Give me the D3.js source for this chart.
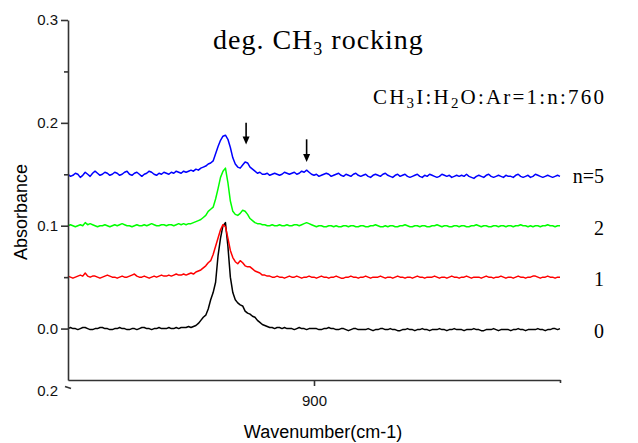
<!DOCTYPE html>
<html>
<head>
<meta charset="utf-8">
<script src="https://cdn.jsdelivr.net/npm/d3@7"></script>
<style>
  body { margin: 0; background: #fff; }
  .axis path, .axis line { stroke: #333; stroke-width: 1.6; }
  .axis text { font-family: "Liberation Sans", Arial, sans-serif; font-size: 15px; fill: #111; }
  .serif { font-family: "Liberation Serif", "Times New Roman", serif; fill: #000; }
  .sans { font-family: "Liberation Sans", Arial, sans-serif; fill: #000; }
</style>
</head>
<body>
<script>
// wavenumber grid: 850 .. 950 cm-1, step 0.5 (values below in mAbs)
var wnStart = 850, wnStep = 0.5;

var n0 = [
  0,1,0,0,-1,0,1,1,0,-1,-1,0,0,1,1,0,0,-1,-1,0,
  0,1,0,0,-1,-1,0,0,-1,0,1,1,0,0,-1,0,0,1,0,0,
  0,1,0,0,1,0,1,1,1,2,1,2,3,5,8,11,13,19,28,35,
  45,71,88,100,103,80,50,35,28,25,23,22,17,15,14,12,11,8,6,4,
  3,2,1,1,0,1,1,0,1,0,0,0,-1,0,1,0,0,-1,0,0,
  0,0,-1,-1,0,0,1,0,0,-1,-1,0,0,-1,-2,-1,0,0,-1,-1,
  -1,-1,0,-1,-2,-1,-1,0,0,-1,-1,0,-1,-1,-2,-2,-1,-1,0,-1,
  -1,-2,-1,-1,0,-1,-1,-2,-1,-1,-1,0,-1,-1,-2,-1,-1,0,-1,-1,
  -1,-2,-1,-1,-1,0,-1,-1,-2,-2,-1,-1,-1,0,-1,-2,-1,-1,-1,-1,
  -2,-1,-1,0,-1,-1,-2,-1,-1,-1,-1,0,-1,-1,-2,-1,-1,0,0,-1,
  0
];
var n1 = [
  51,50,49,50,51,52,51,54,51,50,51,51,50,49,50,51,52,51,50,50,
  49,50,51,50,50,51,52,53,51,50,50,51,50,49,50,51,50,51,52,51,
  51,52,51,52,53,52,52,53,52,53,54,53,55,56,57,59,61,64,66,72,
  80,88,96,101,99,88,76,69,65,63,66,64,61,60,60,58,56,55,54,52,
  52,51,51,50,50,51,50,50,49,50,51,50,50,51,50,49,50,50,51,50,
  50,49,50,51,50,50,49,50,50,51,50,49,49,50,50,51,50,50,49,50,
  50,51,50,49,50,50,50,51,50,49,50,50,49,50,51,50,50,49,50,50,
  49,50,51,50,50,49,50,50,50,51,50,49,50,50,49,50,51,50,50,49,
  50,50,51,50,49,50,50,50,49,50,51,50,50,49,50,50,51,50,49,50,
  50,49,50,51,50,50,49,50,50,51,51,50,49,50,50,51,50,50,49,50,
  50
];
var n2 = [
  100,101,100,99,100,101,100,103,101,102,101,100,99,100,100,101,100,99,100,101,
  100,101,102,101,100,100,99,100,101,100,100,101,100,101,102,101,100,100,101,101,
  100,101,101,100,101,102,101,102,101,102,102,103,104,105,106,108,110,114,116,118,
  126,136,147,153,156,142,124,114,111,110,112,115,114,111,107,105,103,102,102,101,
  101,100,100,101,100,100,101,100,100,101,100,100,101,101,100,101,102,103,102,101,
  100,99,100,100,99,99,100,100,99,100,99,99,100,100,99,100,100,99,99,100,
  100,99,99,100,100,101,100,99,99,100,99,100,100,99,99,100,100,101,100,99,
  99,100,100,99,100,100,99,99,100,100,101,100,99,100,100,99,99,100,100,99,
  100,100,99,99,100,100,101,100,99,100,100,99,99,100,100,99,100,100,99,100,
  100,99,100,100,101,100,100,99,100,99,100,100,99,100,100,101,100,100,99,100,
  100
];
var n5 = [
  150,148,149,151,150,147,149,152,150,148,151,153,151,149,150,152,151,149,150,152,
  151,149,150,152,153,150,149,151,152,150,148,150,151,153,152,150,149,151,150,152,
  151,150,152,151,153,152,151,153,152,153,154,153,155,154,156,157,158,160,161,163,
  170,177,183,187,188,184,176,166,160,157,156,159,162,161,157,155,153,151,152,150,
  150,151,149,150,151,150,149,150,152,151,150,151,152,150,151,153,152,154,152,150,
  149,150,148,149,150,151,150,148,149,150,151,149,148,150,149,148,150,151,149,148,
  149,150,148,147,149,150,149,148,150,151,149,148,147,149,150,148,149,150,148,147,
  148,149,150,148,147,149,148,150,149,148,147,148,150,149,148,149,147,148,149,148,
  149,148,150,148,147,146,148,149,148,147,149,150,148,147,148,149,148,147,149,148,
  148,147,149,150,148,147,148,149,147,148,150,149,148,147,148,149,148,147,148,149,
  148
];

var seriesNames = ["0", "1", "2", "n=5"];
var seriesValues = [n0, n1, n2, n5];
var seriesOffsets = [0.00, 0.05, 0.10, 0.15];
var seriesColors = ["#000000", "#ff0000", "#00ff00", "#0000ff"];

var yTicks = [-0.05, 0.0, 0.1, 0.2, 0.3];
var yTickLabels = ["0.2", "0.0", "0.1", "0.2", "0.3"];
var yMinorTicks = [0.05, 0.15, 0.25];
var xTicks = [900, 950];
var xTickLabels = ["900", ""];

// arrows marking the new bands (wavenumber, top, tip)
var arrowWn = [886.2, 898.5];
var arrowTop = [0.200, 0.184];
var arrowTip = [0.179, 0.162];

var margin = {top: 20, right: 78, bottom: 63, left: 68},
    W = 638, H = 443;

var svg = d3.select("body").append("svg")
    .attr("width", W)
    .attr("height", H);

var x = d3.scaleLinear()
    .domain([850, 950])
    .range([margin.left, W - margin.right]);
var y = d3.scaleLinear()
    .domain([-0.05, 0.3])
    .range([H - margin.bottom, margin.top]);

var line = d3.line()
    .x((d, i) => x(wnStart + i * wnStep))
    .y(d => y(d / 1000));

svg.selectAll(".spectrum")
    .data(seriesValues)
    .enter()
    .append("path")
    .attr("class", "spectrum")
    .attr("d", d => line(d))
    .attr("fill", "none")
    .attr("stroke", (d, i) => seriesColors[i])
    .attr("stroke-width", 1.5)
    .attr("stroke-linejoin", "round");

// y axis
var yAxis = svg.append("g")
    .attr("class", "axis")
    .attr("transform", "translate(" + margin.left + ",0)")
    .call(d3.axisLeft(y)
        .tickValues(yTicks)
        .tickSize(7)
        .tickSizeOuter(0)
        .tickPadding(3)
        .tickFormat((d, i) => yTickLabels[i]));
// odd bottom label sits a bit below the axis end
yAxis.selectAll(".tick").filter(d => d == -0.05)
    .each(function() {
        d3.select(this).select("text").attr("dy", "1.05em");
        d3.select(this).select("line").attr("x1", 3).attr("y1", 8).attr("x2", -3).attr("y2", 6);
    });
svg.append("g")
    .attr("class", "axis")
    .attr("transform", "translate(" + margin.left + ",0)")
    .call(d3.axisLeft(y).tickValues(yMinorTicks).tickSize(4).tickSizeOuter(0).tickFormat(""))
    .select(".domain").remove();

// x axis
var xAxis = svg.append("g")
    .attr("class", "axis")
    .attr("transform", "translate(0," + (H - margin.bottom) + ")")
    .call(d3.axisBottom(x)
        .tickValues(xTicks)
        .tickSize(6)
        .tickSizeOuter(0)
        .tickPadding(9)
        .tickFormat((d, i) => xTickLabels[i]));
xAxis.selectAll(".tick").filter(d => d == 950).select("line").attr("y2", 3);

// axis titles
svg.append("text")
    .attr("class", "sans")
    .attr("x", 323)
    .attr("y", 438)
    .attr("text-anchor", "middle")
    .style("font-size", "18px")
    .text("Wavenumber(cm-1)");

svg.append("text")
    .attr("class", "sans")
    .attr("transform", "translate(27,212) rotate(-90)")
    .attr("text-anchor", "middle")
    .style("font-size", "18px")
    .text("Absorbance");

// title
var title = svg.append("text")
    .attr("class", "serif")
    .attr("x", 213)
    .attr("y", 49)
    .style("font-size", "28px")
    .style("letter-spacing", "1px");
title.append("tspan").text("deg. CH");
title.append("tspan").attr("dy", 6).style("font-size", "18px").text("3");
title.append("tspan").attr("dy", -6).text(" rocking");

var ratio = svg.append("text")
    .attr("class", "serif")
    .attr("x", 373)
    .attr("y", 104)
    .style("font-size", "21px")
    .style("letter-spacing", "2.2px");
ratio.append("tspan").text("CH");
ratio.append("tspan").attr("dy", 4).style("font-size", "15px").text("3");
ratio.append("tspan").attr("dy", -4).text("I:H");
ratio.append("tspan").attr("dy", 4).style("font-size", "15px").text("2");
ratio.append("tspan").attr("dy", -4).text("O:Ar=1:n:760");

// series labels
svg.selectAll(".nlabel")
    .data(seriesNames)
    .enter()
    .append("text")
    .attr("class", "serif nlabel")
    .attr("x", 604)
    .attr("y", (d, i) => y(seriesOffsets[i]) + 9)
    .attr("text-anchor", "end")
    .style("font-size", "20px")
    .text(d => d);

// arrows
var arrows = svg.selectAll(".arrow")
    .data(arrowWn)
    .enter()
    .append("g")
    .attr("class", "arrow");
arrows.append("line")
    .attr("x1", d => x(d))
    .attr("x2", d => x(d))
    .attr("y1", (d, i) => y(arrowTop[i]))
    .attr("y2", (d, i) => y(arrowTip[i]) - 5)
    .attr("stroke", "#000")
    .attr("stroke-width", 1.6);
arrows.append("path")
    .attr("d", (d, i) => {
        var tx = x(d), ty = y(arrowTip[i]);
        return "M" + tx + "," + ty + "L" + (tx - 3.5) + "," + (ty - 8) + "L" + (tx + 3.5) + "," + (ty - 8) + "Z";
    })
    .attr("fill", "#000");
</script>
</body>
</html>
